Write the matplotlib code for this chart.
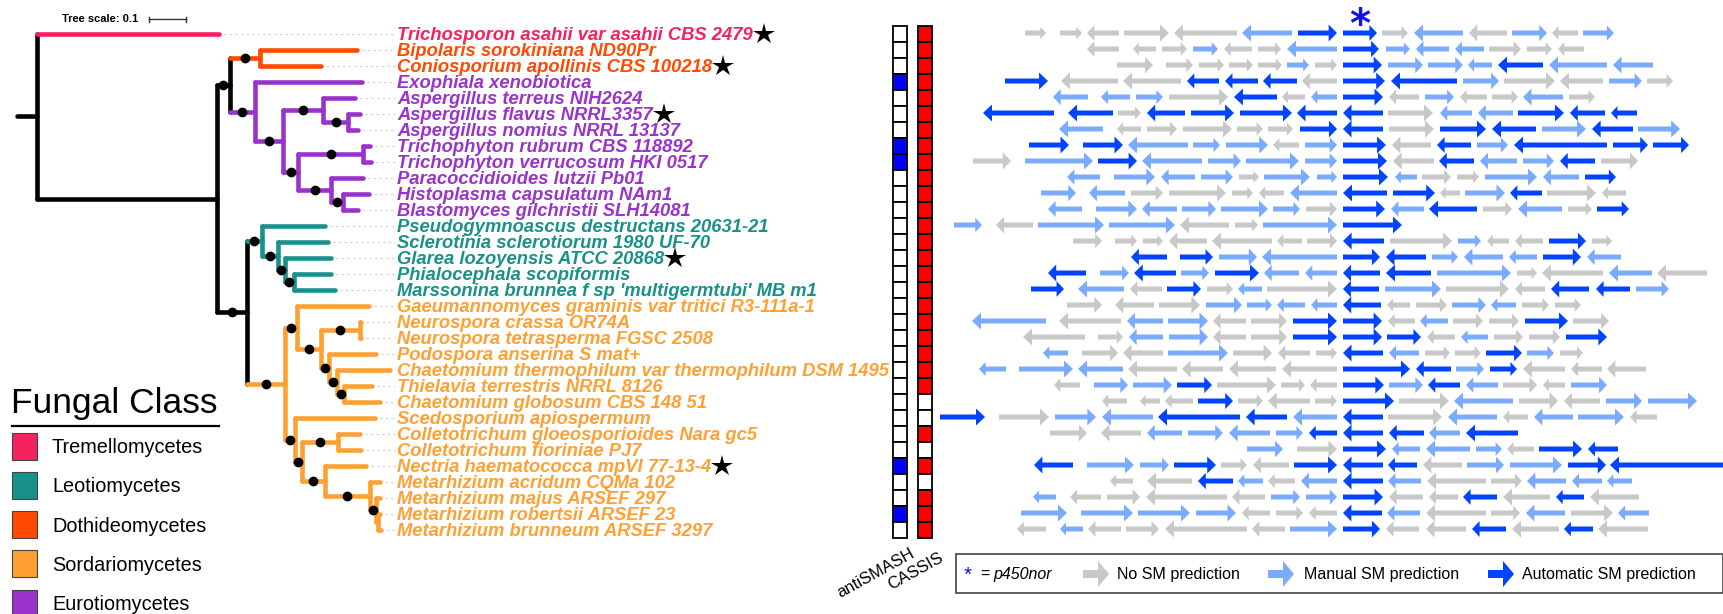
import matplotlib
matplotlib.use('Agg')
import matplotlib.pyplot as plt
from matplotlib.patches import Rectangle, Polygon
from matplotlib.collections import PatchCollection

plt.rcParams['font.family'] = ['Liberation Sans', 'DejaVu Sans']

# ---------------- data ----------------
species = [
    "Trichosporon asahii var asahii CBS 2479",
    "Bipolaris sorokiniana ND90Pr",
    "Coniosporium apollinis CBS 100218",
    "Exophiala xenobiotica",
    "Aspergillus terreus NIH2624",
    "Aspergillus flavus NRRL3357",
    "Aspergillus nomius NRRL 13137",
    "Trichophyton rubrum CBS 118892",
    "Trichophyton verrucosum HKI 0517",
    "Paracoccidioides lutzii Pb01",
    "Histoplasma capsulatum NAm1",
    "Blastomyces gilchristii SLH14081",
    "Pseudogymnoascus destructans 20631-21",
    "Sclerotinia sclerotiorum 1980 UF-70",
    "Glarea lozoyensis ATCC 20868",
    "Phialocephala scopiformis",
    "Marssonina brunnea f sp 'multigermtubi' MB m1",
    "Gaeumannomyces graminis var tritici R3-111a-1",
    "Neurospora crassa OR74A",
    "Neurospora tetrasperma FGSC 2508",
    "Podospora anserina S mat+",
    "Chaetomium thermophilum var thermophilum DSM 1495",
    "Thielavia terrestris NRRL 8126",
    "Chaetomium globosum CBS 148 51",
    "Scedosporium apiospermum",
    "Colletotrichum gloeosporioides Nara gc5",
    "Colletotrichum fioriniae PJ7",
    "Nectria haematococca mpVI 77-13-4",
    "Metarhizium acridum CQMa 102",
    "Metarhizium majus ARSEF 297",
    "Metarhizium robertsii ARSEF 23",
    "Metarhizium brunneum ARSEF 3297",
]
fungal_class = (['Tremellomycetes'] + ['Dothideomycetes'] * 2 + ['Eurotiomycetes'] * 9
                + ['Leotiomycetes'] * 5 + ['Sordariomycetes'] * 15)
starred = [0, 2, 5, 14, 27]

class_names = ['Tremellomycetes', 'Leotiomycetes', 'Dothideomycetes',
               'Sordariomycetes', 'Eurotiomycetes']
class_colors = ['#F5215E', '#17918A', '#FF4A00', '#FFA033', '#9933CC']

# leaves are row indices, '*' = supported node (black dot)
tree_newick = (
    "(0:0.492,"
    "(((1:0.262,2:0.165)*:0.081,"
    "(3:0.289,((4:0.086,(5:0.032,6:0.027)*:0.068)*:0.108,"
    "((7:0.019,8:0.022)*:0.176,(9:0.086,(10:0.070,11:0.041)*:0.032)*:0.089)*:0.041)*:0.076)*:0.068)*:0.035,"
    "((12:0.170,(13:0.135,(14:0.124,(15:0.100,16:0.111)*:0.024)*:0.019)*:0.043)*:0.041,"
    "((17:0.195,((18:0.005,19:0.005)*:0.105,(20:0.127,(21:0.143,(22:0.076,23:0.097)*:0.019)*:0.022)*:0.022)*:0.065)*:0.032,"
    "(24:0.216,((25:0.059,26:0.062)*:0.097,(27:0.111,(28:0.027,(29:0.011,(30:0.005,31:0.008):0.005)*:0.016)*:0.122)*:0.062)*:0.019)*:0.027)*:0.103)*:0.081"
    "):0.486):0.054;"
)

antismash = [0, 0, 0, 1, 0, 0, 0, 1, 1, 0, 0, 0, 0, 0, 0, 0,
             0, 0, 0, 0, 0, 0, 0, 0, 0, 0, 0, 1, 0, 0, 1, 0]
cassis = [1, 1, 1, 1, 1, 1, 1, 1, 1, 1, 1, 1, 1, 1, 1, 1,
          1, 1, 1, 1, 1, 1, 1, 0, 0, 1, 0, 1, 0, 1, 1, 1]

# gene neighbourhoods: (tail, head, kind) ; g = no SM, l = manual SM, d = automatic SM
clusters = [
    [(1025,1046,'g'),(1060,1082,'g'),(1119,1087,'g'),(1124,1169,'g'),(1237,1174,'g'),(1292,1242,'l'),(1298,1337,'d'),(1343,1377,'d'),(1382,1408,'g'),(1463,1414,'l'),(1507,1469,'g'),(1512,1547,'l'),(1578,1552,'g'),(1583,1614,'l')],
    [(1119,1087,'g'),(1156,1133,'g'),(1162,1187,'g'),(1193,1218,'l'),(1252,1224,'g'),(1258,1281,'g'),(1337,1287,'l'),(1343,1379,'d'),(1386,1410,'l'),(1449,1416,'l'),(1484,1455,'l'),(1489,1521,'g'),(1527,1552,'g'),(1584,1558,'g')],
    [(1117,1153,'g'),(1166,1193,'g'),(1199,1224,'g'),(1229,1253,'g'),(1258,1282,'g'),(1287,1309,'l'),(1315,1337,'g'),(1343,1382,'d'),(1388,1423,'l'),(1428,1463,'l'),(1492,1468,'l'),(1543,1498,'d'),(1607,1549,'l'),(1653,1613,'l')],
    [(1005,1048,'d'),(1118,1061,'g'),(1181,1123,'g'),(1219,1187,'d'),(1258,1225,'d'),(1297,1263,'d'),(1337,1302,'g'),(1343,1385,'d'),(1457,1391,'d'),(1463,1499,'l'),(1504,1555,'g'),(1603,1560,'g'),(1609,1642,'l'),(1647,1673,'g')],
    [(1088,1053,'l'),(1130,1101,'l'),(1136,1163,'l'),(1169,1228,'g'),(1277,1234,'d'),(1305,1282,'g'),(1337,1311,'l'),(1343,1383,'d'),(1419,1389,'g'),(1425,1454,'l'),(1487,1460,'g'),(1492,1518,'g'),(1563,1523,'l'),(1569,1595,'g')],
    [(1054,983,'d'),(1113,1068,'d'),(1118,1141,'g'),(1185,1147,'d'),(1191,1234,'d'),(1240,1292,'d'),(1337,1297,'d'),(1383,1343,'d'),(1388,1433,'g'),(1472,1440,'l'),(1513,1478,'l'),(1518,1564,'d'),(1605,1570,'d'),(1637,1611,'d')],
    [(1103,1059,'l'),(1141,1117,'g'),(1147,1177,'g'),(1183,1232,'g'),(1237,1263,'g'),(1268,1293,'g'),(1300,1337,'d'),(1383,1343,'d'),(1389,1434,'g'),(1440,1486,'d'),(1536,1492,'d'),(1542,1586,'l'),(1633,1592,'d'),(1638,1680,'l')],
    [(1029,1069,'d'),(1083,1123,'d'),(1188,1128,'l'),(1193,1220,'l'),(1226,1268,'l'),(1299,1273,'g'),(1305,1337,'l'),(1343,1386,'d'),(1431,1392,'g'),(1471,1437,'d'),(1477,1508,'l'),(1607,1514,'d'),(1613,1648,'d'),(1653,1689,'d')],
    [(973,1011,'g'),(1025,1093,'l'),(1098,1137,'d'),(1202,1142,'l'),(1208,1241,'l'),(1246,1299,'l'),(1305,1337,'l'),(1343,1387,'d'),(1434,1393,'g'),(1474,1439,'d'),(1517,1480,'l'),(1523,1554,'l'),(1595,1560,'d'),(1601,1638,'g')],
    [(1100,1067,'l'),(1114,1155,'l'),(1195,1161,'l'),(1201,1233,'l'),(1239,1259,'g'),(1264,1310,'l'),(1317,1337,'l'),(1343,1388,'d'),(1417,1395,'l'),(1422,1451,'g'),(1457,1479,'g'),(1485,1537,'l'),(1579,1543,'l'),(1585,1616,'d')],
    [(1041,1076,'l'),(1125,1089,'l'),(1131,1163,'g'),(1169,1226,'g'),(1232,1253,'g'),(1284,1259,'g'),(1337,1290,'l'),(1387,1343,'d'),(1393,1435,'d'),(1460,1440,'g'),(1465,1505,'l'),(1542,1510,'d'),(1547,1596,'g'),(1626,1602,'g')],
    [(1082,1048,'l'),(1096,1137,'l'),(1177,1142,'l'),(1182,1216,'l'),(1221,1268,'l'),(1273,1300,'l'),(1306,1337,'g'),(1343,1385,'d'),(1424,1391,'l'),(1477,1429,'d'),(1483,1512,'g'),(1562,1518,'l'),(1568,1592,'g'),(1597,1629,'d')],
    [(954,982,'l'),(1033,996,'g'),(1038,1104,'l'),(1109,1175,'l'),(1229,1180,'g'),(1235,1258,'g'),(1263,1337,'l'),(1343,1402,'d')],
    [(1073,1102,'g'),(1115,1137,'g'),(1143,1163,'g'),(1207,1169,'g'),(1272,1212,'g'),(1302,1277,'g'),(1307,1337,'g'),(1384,1343,'d'),(1390,1452,'g'),(1458,1481,'l'),(1509,1487,'g'),(1543,1515,'g'),(1549,1586,'d'),(1592,1612,'g')],
    [(1167,1131,'d'),(1180,1213,'d'),(1219,1257,'l'),(1337,1262,'l'),(1343,1380,'d'),(1426,1386,'d'),(1432,1458,'l'),(1503,1464,'l'),(1537,1509,'l'),(1543,1581,'d'),(1621,1587,'l')],
    [(1086,1048,'d'),(1100,1129,'l'),(1176,1134,'d'),(1181,1209,'l'),(1215,1259,'d'),(1299,1264,'l'),(1337,1305,'l'),(1380,1343,'d'),(1431,1386,'d'),(1437,1511,'l'),(1517,1537,'g'),(1603,1542,'g'),(1652,1609,'l'),(1707,1657,'g')],
    [(1031,1064,'d'),(1124,1078,'l'),(1162,1130,'g'),(1167,1201,'d'),(1207,1233,'g'),(1262,1238,'l'),(1267,1337,'g'),(1379,1343,'d'),(1385,1441,'l'),(1446,1509,'g'),(1545,1515,'g'),(1589,1551,'d'),(1630,1596,'d'),(1636,1669,'l')],
    [(1067,1102,'g'),(1154,1115,'g'),(1159,1200,'g'),(1206,1242,'l'),(1247,1272,'l'),(1305,1277,'l'),(1337,1311,'l'),(1381,1343,'d'),(1410,1387,'g'),(1416,1447,'g'),(1452,1486,'l'),(1516,1491,'l'),(1522,1549,'g'),(1555,1581,'g')],
    [(1046,972,'l'),(1121,1059,'g'),(1163,1127,'l'),(1168,1208,'l'),(1246,1213,'g'),(1251,1287,'g'),(1293,1337,'d'),(1343,1382,'d'),(1415,1388,'g'),(1448,1420,'l'),(1453,1483,'g'),(1489,1519,'g'),(1525,1568,'d'),(1573,1609,'g')],
    [(1085,1023,'g'),(1098,1123,'g'),(1163,1129,'l'),(1169,1208,'l'),(1246,1213,'g'),(1251,1287,'g'),(1293,1337,'d'),(1343,1382,'d'),(1387,1421,'d'),(1455,1427,'g'),(1488,1461,'l'),(1494,1523,'g'),(1529,1560,'g'),(1566,1607,'d')],
    [(1068,1043,'l'),(1082,1118,'g'),(1163,1123,'g'),(1168,1228,'l'),(1233,1272,'g'),(1310,1278,'g'),(1316,1337,'g'),(1383,1343,'d'),(1419,1389,'l'),(1425,1450,'g'),(1455,1481,'g'),(1486,1522,'d'),(1527,1554,'l'),(1560,1583,'g')],
    [(1006,979,'l'),(1019,1073,'l'),(1123,1078,'l'),(1177,1128,'g'),(1223,1182,'g'),(1276,1229,'g'),(1337,1282,'g'),(1343,1410,'d'),(1451,1416,'d'),(1456,1484,'l'),(1490,1517,'d'),(1565,1523,'g'),(1602,1571,'g'),(1646,1607,'g')],
    [(1080,1054,'g'),(1094,1128,'l'),(1133,1172,'l'),(1177,1212,'d'),(1217,1276,'g'),(1281,1305,'g'),(1337,1310,'g'),(1343,1384,'d'),(1389,1423,'l'),(1460,1428,'d'),(1498,1466,'l'),(1503,1537,'g'),(1565,1543,'g'),(1571,1607,'l')],
    [(1127,1102,'g'),(1160,1140,'g'),(1193,1165,'g'),(1198,1233,'d'),(1238,1263,'g'),(1310,1268,'g'),(1315,1337,'g'),(1343,1394,'d'),(1399,1449,'g'),(1513,1454,'l'),(1519,1558,'g'),(1600,1564,'g'),(1606,1642,'l'),(1648,1697,'l')],
    [(940,985,'d'),(999,1049,'g'),(1055,1096,'l'),(1153,1102,'l'),(1240,1158,'d'),(1287,1246,'d'),(1337,1293,'l'),(1383,1343,'d'),(1388,1442,'g'),(1497,1448,'l'),(1528,1503,'g'),(1573,1534,'l'),(1578,1624,'l'),(1657,1630,'g')],
    [(1050,1087,'g'),(1141,1101,'g'),(1182,1147,'l'),(1188,1223,'l'),(1270,1229,'l'),(1276,1303,'l'),(1337,1309,'d'),(1383,1343,'d'),(1424,1389,'d'),(1460,1429,'l'),(1518,1466,'d')],
    [(1247,1283,'l'),(1297,1337,'g'),(1343,1386,'d'),(1420,1392,'l'),(1470,1426,'l'),(1476,1502,'l'),(1534,1507,'g'),(1539,1582,'d'),(1618,1588,'d')],
    [(1073,1034,'d'),(1087,1134,'l'),(1140,1169,'l'),(1174,1216,'d'),(1221,1247,'g'),(1289,1253,'g'),(1294,1337,'d'),(1383,1343,'d'),(1417,1388,'d'),(1462,1423,'g'),(1467,1504,'l'),(1510,1562,'l'),(1568,1606,'d'),(1724,1610,'d')],
    [(1133,1110,'g'),(1192,1147,'g'),(1233,1198,'d'),(1263,1238,'l'),(1295,1268,'g'),(1337,1301,'l'),(1383,1343,'d'),(1421,1388,'l'),(1486,1427,'g'),(1491,1522,'g'),(1566,1527,'l'),(1602,1572,'l'),(1632,1607,'l')],
    [(1056,1033,'l'),(1101,1070,'g'),(1107,1140,'g'),(1227,1146,'g'),(1265,1232,'g'),(1271,1300,'l'),(1306,1337,'l'),(1343,1383,'d'),(1423,1389,'g'),(1458,1429,'g'),(1497,1463,'d'),(1550,1503,'g'),(1584,1556,'d'),(1639,1590,'g')],
    [(1021,1067,'l'),(1081,1133,'l'),(1138,1190,'l'),(1196,1236,'l'),(1270,1242,'g'),(1276,1303,'g'),(1337,1309,'g'),(1382,1343,'d'),(1420,1387,'l'),(1486,1426,'g'),(1491,1520,'g'),(1565,1526,'l'),(1571,1613,'g'),(1649,1618,'l')],
    [(1046,1017,'g'),(1083,1060,'l'),(1121,1088,'g'),(1126,1159,'g'),(1247,1165,'g'),(1285,1252,'g'),(1290,1337,'l'),(1343,1380,'d'),(1419,1386,'g'),(1466,1426,'g'),(1506,1472,'d'),(1559,1512,'g'),(1593,1564,'d'),(1648,1598,'g')],
]
gene_colors = {'g': '#C8C8C8', 'l': '#7AABFF', 'd': '#0044FF'}
gene_labels = {'g': 'No SM prediction', 'l': 'Manual SM prediction', 'd': 'Automatic SM prediction'}

# ---------------- layout ----------------
W, H = 1724, 614
row_y0, row_dy = 34, 16.0
tree_x0, tree_px = 17, 370.0      # tree origin, pixels per substitution/site
label_x = 397

fig = plt.figure(figsize=(W / 100, H / 100), dpi=100)
ax = fig.add_axes([0, 0, 1, 1])
ax.set_xlim(0, W)
ax.set_ylim(H, 0)
ax.axis('off')

def row_y(i):
    return row_y0 + i * row_dy

cmap = dict(zip(class_names, class_colors))


# ---------------- tree ----------------
def parse(s, i=0):
    node = {'children': [], 'leaf': None, 'label': '', 'length': 0.0}
    if s[i] == '(':
        i += 1
        while True:
            child, i = parse(s, i)
            node['children'].append(child)
            if s[i] == ',':
                i += 1
                continue
            i += 1
            break
    else:
        j = i
        while s[i].isdigit():
            i += 1
        node['leaf'] = int(s[j:i])
    j = i
    while s[i] not in ':,);':
        i += 1
    node['label'] = s[j:i]
    if s[i] == ':':
        i += 1
        j = i
        while s[i] not in ',);':
            i += 1
        node['length'] = float(s[j:i])
    return node, i


def layout(node, depth):
    node['x'] = tree_x0 + (depth + node['length']) * tree_px
    if node['leaf'] is not None:
        node['y'] = row_y(node['leaf'])
        node['classes'] = {fungal_class[node['leaf']]}
    else:
        for c in node['children']:
            layout(c, depth + node['length'])
        node['y'] = (node['children'][0]['y'] + node['children'][-1]['y']) / 2
        node['classes'] = set().union(*[c['classes'] for c in node['children']])


def node_color(node):
    if len(node['classes']) == 1:
        return cmap[next(iter(node['classes']))]
    return 'black'


tree, _ = parse(tree_newick)
layout(tree, 0)
lw_tree = 3.3
dots_x, dots_y = [], []


def draw(node, parent_x):
    col = node_color(node)
    ax.plot([parent_x, node['x']], [node['y'], node['y']], color=col, lw=lw_tree,
            solid_capstyle='round', zorder=2)
    if node['label'] == '*':
        dots_x.append((parent_x + node['x']) / 2)
        dots_y.append(node['y'])
    if node['children']:
        ys = [c['y'] for c in node['children']]
        ax.plot([node['x'], node['x']], [min(ys), max(ys)], color=col, lw=lw_tree,
                solid_capstyle='round', zorder=2)
        for c in node['children']:
            draw(c, node['x'])
    else:
        ax.plot([node['x'] + 5, label_x - 2], [node['y'], node['y']], color='#cfcfcf',
                lw=0.8, ls=(0, (2, 3)), zorder=1)


draw(tree, tree_x0)
ax.plot(dots_x, dots_y, 'o', color='black', ms=6, zorder=3)

# tree scale
ax.text(62, 19, 'Tree scale: 0.1', fontsize=8, fontweight='bold', va='center', ha='left')
ax.plot([149, 149 + 0.1 * tree_px], [19, 19], color='#333333', lw=1)
for xb in (149, 149 + 0.1 * tree_px):
    ax.plot([xb, xb], [16.5, 21.5], color='#333333', lw=1)

# species labels
fig.canvas.draw()
renderer = fig.canvas.get_renderer()
inv = ax.transData.inverted()
for i, name in enumerate(species):
    t = ax.text(label_x, row_y(i) + 1, name, color=cmap[fungal_class[i]], fontsize=13.2,
                fontweight='bold', style='italic', va='center', ha='left')
    if i in starred:
        bb = t.get_window_extent(renderer)
        xr = inv.transform((bb.x1, bb.y0))[0]
        ax.plot(xr + 11, row_y(i) - 0.5, marker='*', color='black', ms=16, mew=0)

# class legend
ax.text(11, 413, 'Fungal Class', fontsize=25.5, va='baseline', ha='left')
ax.plot([12, 219], [426, 426], color='black', lw=1.6)
for k, (nm, col) in enumerate(zip(class_names, class_colors)):
    yc = 446 + k * 39.3
    ax.add_patch(Rectangle((12, yc - 13.5), 25, 27, facecolor=col, edgecolor='#444444', lw=0.8))
    ax.text(52, yc + 7, nm, fontsize=14.3, va='baseline', ha='left')

# antiSMASH / CASSIS columns
for i in range(len(species)):
    y = row_y(i)
    ax.add_patch(Rectangle((893, y - 8), 14, 16, facecolor='#0000FF' if antismash[i] else 'white',
                           edgecolor='black', lw=1.3))
    ax.add_patch(Rectangle((918, y - 8), 14, 16, facecolor='#FF0000' if cassis[i] else 'white',
                           edgecolor='black', lw=1.3))
ax.text(910, 546, 'antiSMASH', fontsize=12, rotation=29, rotation_mode='anchor',
        ha='right', va='top')
ax.text(938, 550, 'CASSIS', fontsize=12, rotation=29, rotation_mode='anchor',
        ha='right', va='top')


# ---------------- gene arrows ----------------
def arrow_poly(tail, head, y, sh, hh, hl):
    d = 1 if head > tail else -1
    neck = head - d * hl
    return [(tail, y - sh), (neck, y - sh), (neck, y - hh), (head, y),
            (neck, y + hh), (neck, y + sh), (tail, y + sh)]


patches, colors = [], []
for i, genes in enumerate(clusters):
    y = row_y(i) - 1
    for tail, head, kind in genes:
        L = abs(head - tail)
        hh = min(8.5, 3.2 + 0.14 * L)
        hl = min(9.0, 2.5 + 0.15 * L)
        patches.append(Polygon(arrow_poly(tail, head, y, 2.5, hh, hl), closed=True))
        colors.append(gene_colors[kind])
ax.add_collection(PatchCollection(patches, facecolors=colors, edgecolors='none', zorder=2))

# p450nor marker
ax.text(1360, 37, '*', color='#1010F0', fontsize=29, fontweight='bold',
        family='DejaVu Sans', ha='center', va='baseline')

# bottom legend
ax.add_patch(Rectangle((956, 554), 767, 39, facecolor='white', edgecolor='#444444', lw=1.2))
ly = 574
ax.text(964, ly + 1, '*', color='#1010F0', fontsize=15, va='center', ha='left')
ax.text(980, ly, '=', fontsize=11.5, va='center', ha='left')
ax.text(993, ly, 'p450nor', fontsize=11.5, style='italic', va='center', ha='left')
leg_items = [('g', 1083, 1117), ('l', 1268, 1304), ('d', 1488, 1522)]
for kind, ax0, tx in leg_items:
    ax.add_patch(Polygon(arrow_poly(ax0, ax0 + 26, ly, 4, 13, 11), closed=True,
                         facecolor=gene_colors[kind], edgecolor='none'))
    ax.text(tx, ly, gene_labels[kind], fontsize=11.5, va='center', ha='left')

fig.savefig('out.png', dpi=100)
plt.close(fig)
